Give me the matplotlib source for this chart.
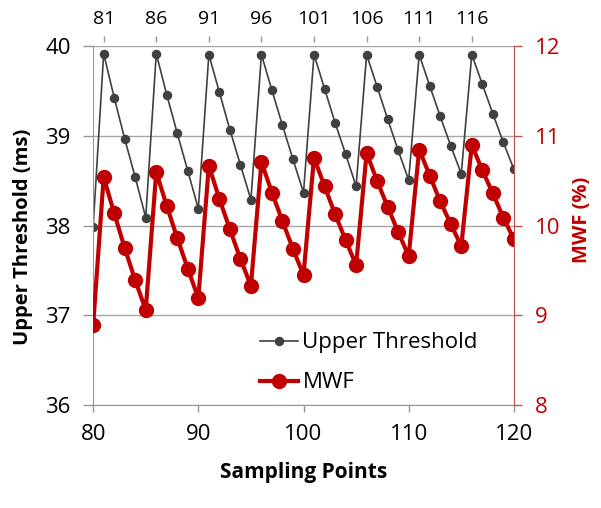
import matplotlib.pyplot as plt
import numpy as np

plt.rcParams['font.family'] = ['Open Sans', 'DejaVu Sans']

# sampling points 80..120
sampling = np.arange(80, 121)

upper_threshold = [
    37.99,
    39.92, 39.43, 38.97, 38.54, 38.09,
    39.92, 39.46, 39.03, 38.61, 38.19,
    39.91, 39.49, 39.07, 38.68, 38.29,
    39.91, 39.51, 39.12, 38.74, 38.37,
    39.91, 39.53, 39.15, 38.80, 38.44,
    39.91, 39.55, 39.19, 38.84, 38.51,
    39.91, 39.56, 39.22, 38.89, 38.58,
    39.91, 39.58, 39.25, 38.93, 38.63,
]

mwf = [
    8.89,
    10.54, 10.14, 9.75, 9.39, 9.06,
    10.60, 10.22, 9.86, 9.52, 9.19,
    10.67, 10.30, 9.96, 9.63, 9.33,
    10.71, 10.37, 10.05, 9.74, 9.45,
    10.76, 10.44, 10.13, 9.84, 9.56,
    10.81, 10.50, 10.21, 9.93, 9.66,
    10.85, 10.56, 10.27, 10.02, 9.77,
    10.90, 10.62, 10.36, 10.09, 9.85,
]

x_ticks = [80, 90, 100, 110, 120]
top_ticks = [81, 86, 91, 96, 101, 106, 111, 116]
left_ticks = [36, 37, 38, 39, 40]
right_ticks = [8, 9, 10, 11, 12]

gray = '#404040'
red = '#C00000'
axis_gray = '#969696'

fig = plt.figure(figsize=(6.01, 5.08), dpi=100)
ax = fig.add_axes([0.155, 0.203, 0.70, 0.7055])

ax.plot(sampling, upper_threshold, color=gray, lw=1.2, marker='o', ms=5.8,
        label='Upper Threshold')
ax.set_xlim(80, 120)
ax.set_ylim(36, 40)
ax.set_xticks(x_ticks)
ax.set_yticks(left_ticks)
ax.grid(axis='y', color='#A6A6A6', lw=1)
ax.set_axisbelow(True)
for s in ['top', 'right']:
    ax.spines[s].set_visible(False)
for s in ['left', 'bottom']:
    ax.spines[s].set_color(axis_gray)
ax.tick_params(axis='y', labelsize=16, color=axis_gray, length=7, width=1, pad=9)
ax.tick_params(axis='x', labelsize=16, color=axis_gray, length=5, width=1, pad=9)

ax2 = ax.twinx()
ax2.plot(sampling, mwf, color=red, lw=3, marker='o', ms=10, label='MWF')
ax2.set_ylim(8, 12)
ax2.set_yticks(right_ticks)
for s in ['top', 'left', 'bottom']:
    ax2.spines[s].set_visible(False)
ax2.spines['right'].set_color('#C0504D')
ax2.tick_params(axis='y', labelsize=16, colors=red, length=6, width=1, pad=9)
ax2.tick_params(axis='y', color='#C0504D')

# top axis with the cycle peaks
ax3 = ax.twiny()
ax3.set_xlim(80, 120)
ax3.set_xticks(top_ticks)
ax3.spines['top'].set_position(('outward', 3))
for s in ax3.spines.values():
    s.set_visible(False)
ax3.tick_params(axis='x', labelsize=14, color=axis_gray, length=4.5, width=1, pad=6)

ax.set_ylabel('Upper Threshold (ms)', fontsize=14.5, fontweight='bold')
ax.yaxis.set_label_coords(-0.166, 0.47)
ax.yaxis.label.set_va('center')
ax2.set_ylabel('MWF (%)', fontsize=14.5, fontweight='bold', color=red)
ax2.yaxis.set_label_coords(1.161, 0.516)
ax2.yaxis.label.set_va('center')
ax.set_xlabel('Sampling Points', fontsize=15, fontweight='bold')
ax.xaxis.set_label_coords(0.5, -0.19)
ax.xaxis.label.set_va('center')

h1, l1 = ax.get_legend_handles_labels()
h2, l2 = ax2.get_legend_handles_labels()
ax2.legend(h1 + h2, l1 + l2, loc='center left', bbox_to_anchor=(0.397, 0.117),
           frameon=False, fontsize=16, borderpad=0, borderaxespad=0,
           handlelength=1.7, handletextpad=0.2, labelspacing=0.85)

fig.savefig('out.png', dpi=100)
